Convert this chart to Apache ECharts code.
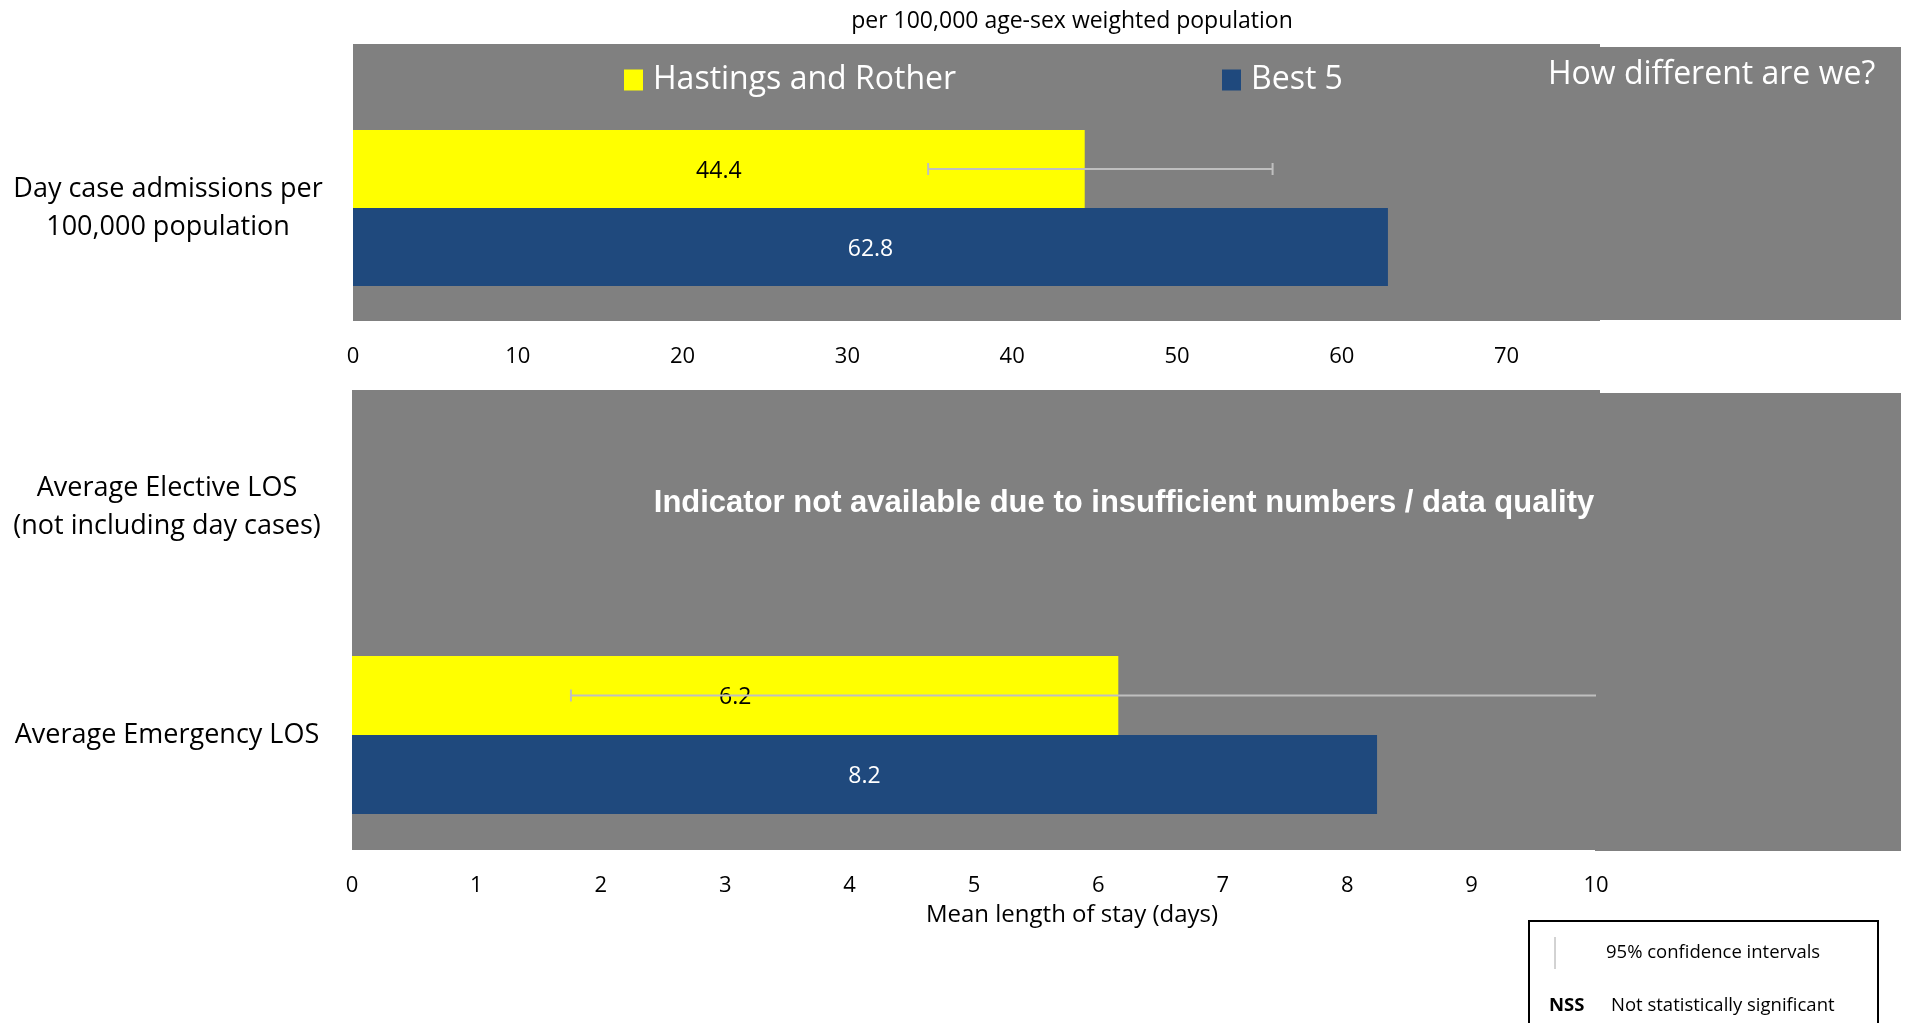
<!DOCTYPE html>
<html>
<head>
<meta charset="utf-8">
<title>How different are we?</title>
<script src="https://cdn.jsdelivr.net/npm/echarts@6/dist/echarts.min.js"></script>
<style>
  html, body { margin: 0; padding: 0; background: #fff; }
  #chart { width: 1906px; height: 1023px; }
</style>
</head>
<body>
<div id="chart"></div>
<script>
// --- data ---
const dayCaseCategories = ["Day case admissions per\n100,000 population"];
const losCategories = ["Average Elective LOS\n(not including day cases)", "Average Emergency LOS"];

const hastingsDayCase = [44.4];
const best5DayCase = [62.8];
const hastingsDayCaseCI = [[34.9, 55.8]];

// elective LOS not available
const hastingsLOS = [null, 6.16];
const best5LOS = [null, 8.24];
const hastingsLOSCI = [null, [1.76, 10.5]];

const HASTINGS = "Hastings and Rother";
const BEST5 = "Best 5";

const YELLOW = "#ffff00";
const BLUE = "#1f497d";
const GREY_BG = "#808080";
const ERR_COLOR = "#bfbfbf";
const FONT = "'Open Sans', 'Noto Sans', sans-serif";

const BAR_TOP = 78;
const BAR_BOTTOM = 79;

const ciData = (list) =>
  list.map((ci, i) => (ci ? [i, ci[0], ci[1]] : null)).filter((d) => d !== null);

// error bar drawn at the centre of the first (yellow) bar
const makeErrorBar = (barWidth) => (params, api) => {
  const cat = api.value(0);
  const lo = api.coord([api.value(1), cat]);
  const hi = api.coord([api.value(2), cat]);
  const rect = params.coordSys;
  const rightEdge = rect.x + rect.width;
  const y = lo[1] - barWidth / 2;
  const style = { stroke: ERR_COLOR, lineWidth: 2 };
  const children = [
    { type: "line", shape: { x1: lo[0], y1: y, x2: Math.min(hi[0], rightEdge), y2: y }, style },
    { type: "line", shape: { x1: lo[0], y1: y - 6, x2: lo[0], y2: y + 6 }, style },
  ];
  if (hi[0] <= rightEdge) {
    children.push({ type: "line", shape: { x1: hi[0], y1: y - 6, x2: hi[0], y2: y + 6 }, style });
  }
  return { type: "group", children };
};

const valueLabel = (color) => ({
  show: true,
  position: "inside",
  color: color,
  fontFamily: FONT,
  fontSize: 23,
  offset: [0, 2],
  formatter: (p) => p.value.toFixed(1),
});

const xAxisCommon = {
  type: "value",
  min: 0,
  axisLine: { show: false },
  axisTick: { show: false },
  splitLine: { show: false },
};

const yAxisCommon = {
  type: "category",
  inverse: true,
  axisLine: { show: false },
  axisTick: { show: false },
  splitLine: { show: false },
  axisLabel: {
    align: "center",
    margin: 185,
    color: "#000",
    fontFamily: FONT,
    fontSize: 27,
    lineHeight: 38,
  },
};

const legendText = { color: "#fff", fontFamily: FONT, fontSize: 32, padding: [0, 0, 0, 5] };

const chart = echarts.init(document.getElementById("chart"));

const option = {
  backgroundColor: "#fff",
  animation: false,
  title: {
    text: "per 100,000 age-sex weighted population",
    left: 1067,
    top: 5,
    textAlign: "center",
    textStyle: { color: "#000", fontFamily: FONT, fontSize: 23, fontWeight: "normal" },
  },
  legend: [
    {
      data: [HASTINGS],
      left: 624,
      top: 64,
      icon: "rect",
      itemWidth: 19,
      itemHeight: 21,
      padding: 0,
      textStyle: legendText,
    },
    {
      data: [BEST5],
      left: 1222,
      top: 64,
      icon: "rect",
      itemWidth: 19,
      itemHeight: 21,
      padding: 0,
      textStyle: legendText,
    },
  ],
  grid: [
    { left: 353, top: 95, width: 1236, height: 226 },
    { left: 352, top: 393, width: 1244, height: 456 },
  ],
  xAxis: [
    {
      ...xAxisCommon,
      gridIndex: 0,
      max: 75,
      interval: 10,
      axisLabel: { showMaxLabel: false, margin: 25, color: "#000", fontFamily: FONT, fontSize: 22 },
    },
    {
      ...xAxisCommon,
      gridIndex: 1,
      max: 10,
      interval: 1,
      axisLabel: { margin: 26, color: "#000", fontFamily: FONT, fontSize: 22 },
    },
  ],
  yAxis: [
    { ...yAxisCommon, gridIndex: 0, data: dayCaseCategories },
    { ...yAxisCommon, gridIndex: 1, data: losCategories },
  ],
  graphic: [
    // grey panels
    { type: "rect", z: -1, shape: { x: 353, y: 44, width: 1247, height: 277 }, style: { fill: GREY_BG } },
    { type: "rect", z: -1, shape: { x: 1595, y: 47, width: 306, height: 273 }, style: { fill: GREY_BG } },
    { type: "rect", z: -1, shape: { x: 352, y: 390, width: 1248, height: 460 }, style: { fill: GREY_BG } },
    { type: "rect", z: -1, shape: { x: 1595, y: 393, width: 306, height: 458 }, style: { fill: GREY_BG } },
    {
      type: "text",
      x: 1548,
      y: 75,
      z: 10,
      style: { text: "How different are we?", fill: "#fff", font: "32px " + FONT, verticalAlign: "middle" },
    },
    {
      type: "text",
      x: 1124,
      y: 503,
      z: 10,
      style: {
        text: "Indicator not available due to insufficient numbers / data quality",
        fill: "#fff",
        font: "bold 31px 'Liberation Sans', Arial, sans-serif",
        align: "center",
        verticalAlign: "middle",
      },
    },
    {
      type: "text",
      x: 1072,
      y: 915,
      style: {
        text: "Mean length of stay (days)",
        fill: "#000",
        font: "24px " + FONT,
        align: "center",
        verticalAlign: "middle",
      },
    },
    // key box
    {
      type: "rect",
      shape: { x: 1529, y: 921, width: 349, height: 110 },
      style: { fill: "#fff", stroke: "#000", lineWidth: 2 },
    },
    {
      type: "line",
      shape: { x1: 1555, y1: 937, x2: 1555, y2: 969 },
      style: { stroke: "#a6a6a6", lineWidth: 1 },
    },
    {
      type: "text",
      x: 1606,
      y: 953,
      style: { text: "95% confidence intervals", fill: "#000", font: "18.5px " + FONT, verticalAlign: "middle" },
    },
    {
      type: "text",
      x: 1549,
      y: 1006,
      style: { text: "NSS", fill: "#000", font: "bold 18.5px " + FONT, verticalAlign: "middle" },
    },
    {
      type: "text",
      x: 1611,
      y: 1006,
      style: { text: "Not statistically significant", fill: "#000", font: "18.5px " + FONT, verticalAlign: "middle" },
    },
  ],
  series: [
    {
      name: HASTINGS,
      type: "bar",
      xAxisIndex: 0,
      yAxisIndex: 0,
      barWidth: BAR_TOP,
      barGap: "0%",
      itemStyle: { color: YELLOW },
      label: valueLabel("#000"),
      data: hastingsDayCase,
    },
    {
      name: BEST5,
      type: "bar",
      xAxisIndex: 0,
      yAxisIndex: 0,
      barWidth: BAR_TOP,
      barGap: "0%",
      itemStyle: { color: BLUE },
      label: valueLabel("#fff"),
      data: best5DayCase,
    },
    {
      name: HASTINGS,
      type: "bar",
      xAxisIndex: 1,
      yAxisIndex: 1,
      barWidth: BAR_BOTTOM,
      barGap: "0%",
      itemStyle: { color: YELLOW },
      label: valueLabel("#000"),
      data: hastingsLOS,
    },
    {
      name: BEST5,
      type: "bar",
      xAxisIndex: 1,
      yAxisIndex: 1,
      barWidth: BAR_BOTTOM,
      barGap: "0%",
      itemStyle: { color: BLUE },
      label: valueLabel("#fff"),
      data: best5LOS,
    },
    {
      name: "CI day case",
      type: "custom",
      xAxisIndex: 0,
      yAxisIndex: 0,
      z: 3,
      renderItem: makeErrorBar(BAR_TOP),
      encode: { x: [1, 2], y: 0 },
      data: ciData(hastingsDayCaseCI),
    },
    {
      name: "CI LOS",
      type: "custom",
      xAxisIndex: 1,
      yAxisIndex: 1,
      z: 3,
      renderItem: makeErrorBar(BAR_BOTTOM),
      encode: { x: [1, 2], y: 0 },
      data: ciData(hastingsLOSCI),
    },
  ],
};

option && chart.setOption(option);

window.addEventListener("resize", () => {
  chart.resize();
});
</script>
</body>
</html>
